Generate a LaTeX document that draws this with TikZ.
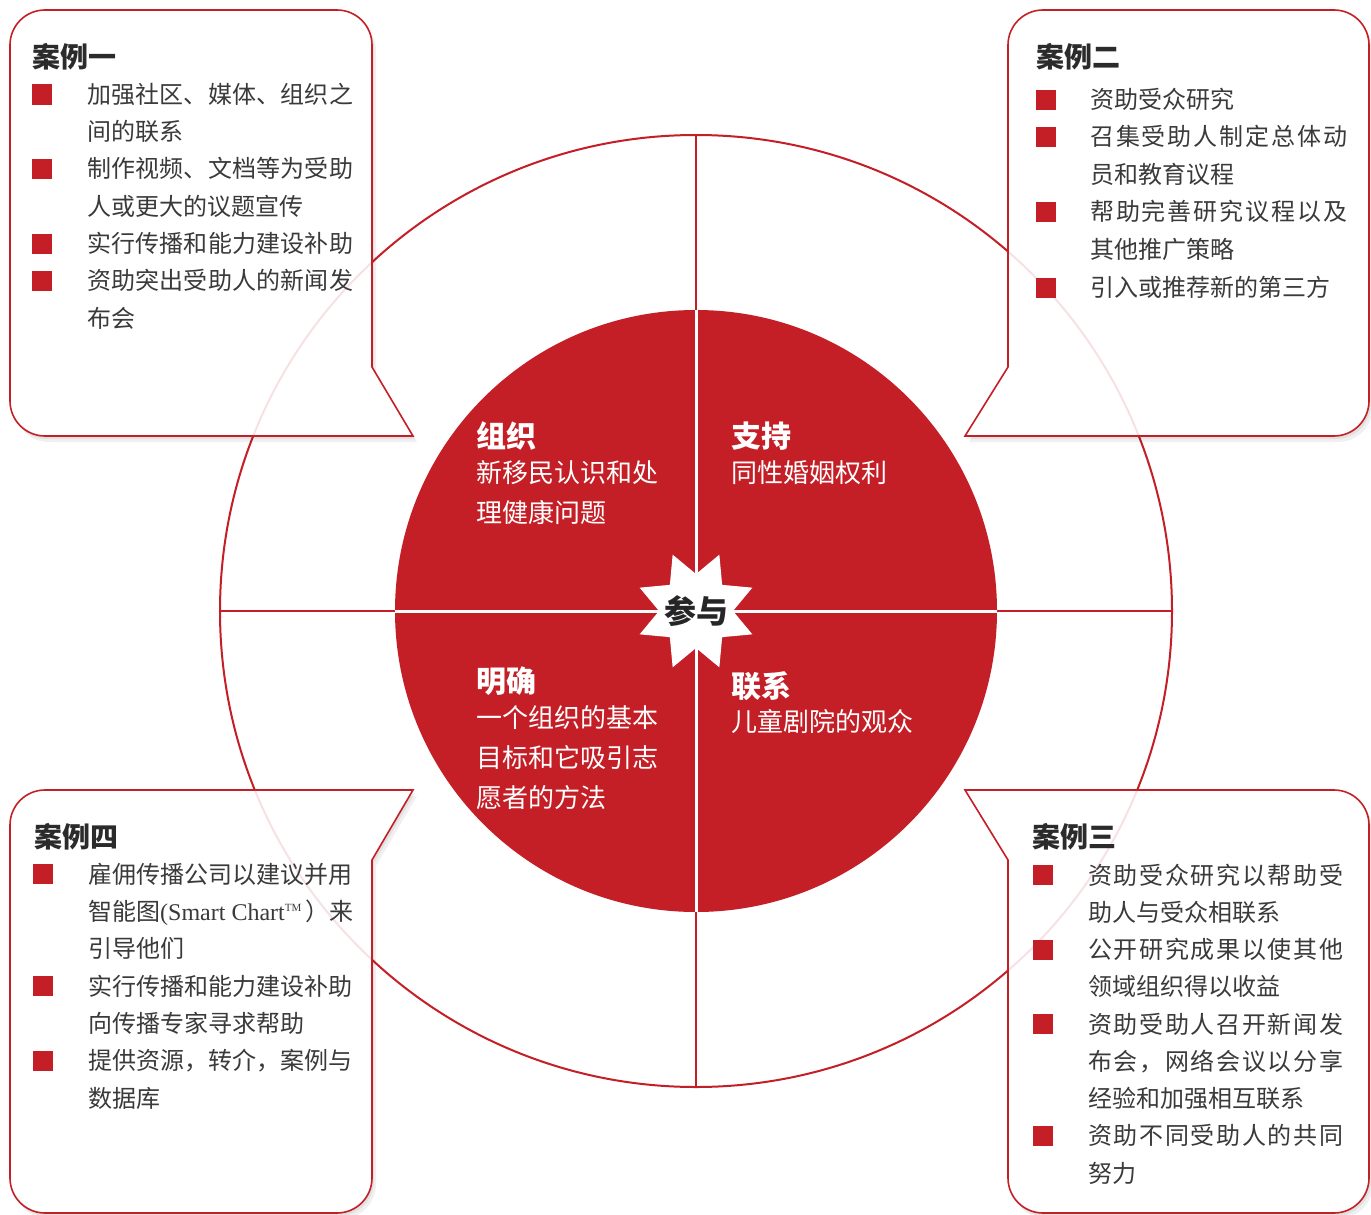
\documentclass[tikz,border=0pt]{standalone}
\usepackage{fontspec}
\setmainfont{Noto Sans CJK SC}
\newfontfamily\lser{Liberation Serif}
\usetikzlibrary{shapes.geometric}
\definecolor{cred}{HTML}{C41E26}
\definecolor{txtgray}{HTML}{3A3A3A}
\definecolor{headgray}{HTML}{2B2B2B}
\makeatletter
\newcommand\jl[2]{\makebox[#1pt][s]{\let\jl@sep\relax\@tfor\jl@c:=#2\do{\jl@sep\jl@c\let\jl@sep\hfill}}}
\makeatother
\begin{document}
\begin{tikzpicture}[x=1pt,y=-1pt,
  boxtxt/.style={anchor=base west, inner sep=0pt, text=txtgray, font=\fontsize{24}{24}\selectfont},
  boxhead/.style={anchor=base west, inner sep=0pt, text=headgray, font=\fontsize{28}{28}\selectfont\bfseries},
  sq/.style={fill=cred, minimum size=20pt, inner sep=0pt},
  dhead/.style={anchor=base west, inner sep=0pt, text=white, font=\fontsize{30}{30}\selectfont\bfseries},
  dtxt/.style={anchor=base west, inner sep=0pt, text=white, font=\fontsize{26}{26}\selectfont},
  callout/.style={draw=cred, line width=1.6pt, fill=white, fill opacity=0.87, line join=miter},
  shadowfill/.style={fill=black, opacity=0.06},
  pA/.style={insert path={(413,436) -- (45,436) arc[start angle=90,end angle=180,radius=35] -- (10,45) arc[start angle=180,end angle=270,radius=35] -- (337,10) arc[start angle=270,end angle=360,radius=35] -- (372,367) -- cycle}},
  pB/.style={insert path={(965,436) -- (1008,367) -- (1008,45) arc[start angle=180,end angle=270,radius=35] -- (1334,10) arc[start angle=270,end angle=360,radius=35] -- (1369,401) arc[start angle=0,end angle=90,radius=35] -- cycle}},
  pC/.style={insert path={(965,790) -- (1334,790) arc[start angle=270,end angle=360,radius=35] -- (1369,1178) arc[start angle=0,end angle=90,radius=35] -- (1043,1213) arc[start angle=90,end angle=180,radius=35] -- (1008,860) -- cycle}},
  pD/.style={insert path={(413,790) -- (372,860) -- (372,1178) arc[start angle=0,end angle=90,radius=35] -- (45,1213) arc[start angle=90,end angle=180,radius=35] -- (10,825) arc[start angle=180,end angle=270,radius=35] -- cycle}},
  page/.style={insert path={(0,0) rectangle (1371,1215)}},
]
\useasboundingbox (0,0) rectangle (1371,1215);
\fill[white] (0,0) rectangle (1371,1215);

% outer ring and cross
\draw[cred, line width=2pt] (696,611) circle[radius=476];
\coordinate (cl) at (220,611); \coordinate (cr) at (1172,611);
\coordinate (ct) at (696,135); \coordinate (cb) at (696,1087);
\draw[cred, line width=2pt] (cl) -- (cr);
\draw[cred, line width=2pt] (ct) -- (cb);

% inner disk
\fill[cred] (696,611) circle[radius=301];
\coordinate (il) at (395,611); \coordinate (ir) at (997,611);
\coordinate (it) at (696,310); \coordinate (ib) at (696,912);
\draw[white, line width=3pt] (il) -- (ir);
\draw[white, line width=3pt] (it) -- (ib);

% star
\node[star, star points=8, star point ratio=1.65, minimum size=122pt, inner sep=0pt, fill=white, draw=none, shape border rotate=22.5] (star) at (696,611) {};
\node[anchor=base, inner sep=0pt, text=black!85, font=\fontsize{32}{32}\selectfont\bfseries] (cy) at (696,623) {参与};

% disk texts
\node[dhead] (h1) at (476,447.4) {组织};
\node[dtxt] (t11) at (476,482.9) {新移民认识和处};
\node[dtxt] (t12) at (476,522.9) {理健康问题};
\node[dhead] (h2) at (731,447.4) {支持};
\node[dtxt] (t21) at (731,482.9) {同性婚姻权利};
\node[dhead] (h3) at (476,692.4) {明确};
\node[dtxt] (t31) at (476,727.9) {一个组织的基本};
\node[dtxt] (t32) at (476,767.9) {目标和它吸引志};
\node[dtxt] (t33) at (476,807.9) {愿者的方法};
\node[dhead] (h4) at (731,697.4) {联系};
\node[dtxt] (t41) at (731,731.9) {儿童剧院的观众};

% callout shadows (outside the boxes only)
\foreach \p in {pA,pB,pC,pD}{
  \begin{scope}[even odd rule]
    \clip[page, \p];
    \path[shadowfill, shift={(2,3)}, \p];
    \path[shadowfill, shift={(4,6)}, \p];
  \end{scope}
}
\path[callout, pA];
\path[callout, pB];
\path[callout, pC];
\path[callout, pD];

% box 1
\node[boxhead] (c1h) at (32,67.6) {案例一};
\foreach \t [count=\i] in {{\jl{266}{加强社区、媒体、组织之}},间的联系,{\jl{266}{制作视频、文档等为受助}},人或更大的议题宣传,{\jl{266}{实行传播和能力建设补助}},{\jl{266}{资助突出受助人的新闻发}},布会}
  \node[boxtxt] (a\i) at (87,{103.1+37.33*(\i-1)}) {\t};
\foreach \k in {0,2,4,5}
  \node[sq] (as\k) at (42,{94.5+37.33*\k}) {};

% box 2
\node[boxhead] (c2h) at (1036,67.6) {案例二};
\foreach \t [count=\i] in {资助受众研究,{\jl{257}{召集受助人制定总体动}},员和教育议程,{\jl{257}{帮助完善研究议程以及}},其他推广策略,引入或推荐新的第三方}
  \node[boxtxt] (b\i) at (1090,{108.1+37.6*(\i-1)}) {\t};
\foreach \k in {0,1,3,5}
  \node[sq] (bs\k) at (1046,{99.5+37.6*\k}) {};

% box 3
\node[boxhead] (c3h) at (1032,847.6) {案例三};
\foreach \t [count=\i] in {{\jl{255}{资助受众研究以帮助受}},助人与受众相联系,{\jl{255}{公开研究成果以使其他}},领域组织得以收益,{\jl{255}{资助受助人召开新闻发}},{\jl{255}{布会，网络会议以分享}},经验和加强相互联系,{\jl{255}{资助不同受助人的共同}},努力}
  \node[boxtxt] (c\i) at (1088,{884.1+37.25*(\i-1)}) {\t};
\foreach \k in {0,2,4,7}
  \node[sq] (cs\k) at (1043,{875+37.25*\k}) {};

% box 4
\node[boxhead] (c4h) at (34,847.6) {案例四};
\foreach \t [count=\i] in {{\jl{262}{雇佣传播公司以建议并用}},{智能图{\lser (Smart Chart\raisebox{9pt}{\fontsize{11}{11}\selectfont TM}}\hspace{4pt}）来},引导他们,{\jl{262}{实行传播和能力建设补助}},向传播专家寻求帮助,{\jl{262}{提供资源，转介，案例与}},数据库}
  \node[boxtxt] (d\i) at (88,{883.1+37.33*(\i-1)}) {\t};
\foreach \k in {0,3,5}
  \node[sq] (ds\k) at (43,{874+37.33*\k}) {};
\end{tikzpicture}
\end{document}
